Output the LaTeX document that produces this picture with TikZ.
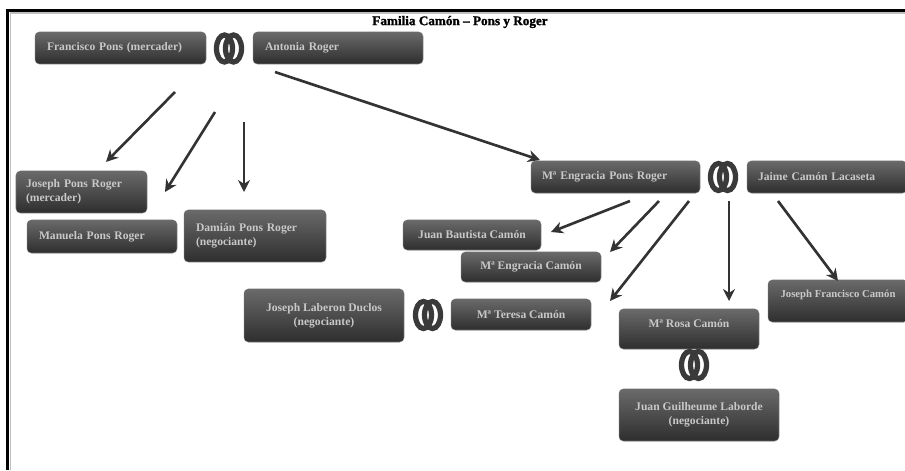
\documentclass[tikz,border=0pt]{standalone}
\usepackage{fontspec}
\setmainfont{Liberation Serif}
\newfontfamily\titlefont[FakeBold=1.6]{Liberation Serif}
\usepackage{tikz}
\usetikzlibrary{arrows.meta,shapes.geometric}

\definecolor{boxtop}{HTML}{6A6A6A}
\definecolor{boxbottom}{HTML}{2E2E2E}
\definecolor{boxtext}{HTML}{C8C8C8}
\definecolor{ringgray}{HTML}{3A3A3A}
\definecolor{arrowgray}{HTML}{333333}

\tikzset{
    person/.style={rectangle, rounded corners=2.5pt, top color=boxtop, bottom color=boxbottom, draw=boxbottom!70, line width=0.3pt, text=boxtext, font=\bfseries\fontsize{6.6}{8}\selectfont, inner sep=0pt, align=center},
    personleft/.style={person, align=left, inner xsep=0.24cm, text width=#1},
    ring/.style={draw=ringgray, line width=3pt, ellipse, minimum width=0.32cm, minimum height=0.54cm, inner sep=0pt},
    link/.style={-{Stealth[length=2.4mm,width=2.4mm]}, draw=arrowgray, line width=1.5pt},
}

\begin{document}
\begin{tikzpicture}[x=0.02cm,y=-0.02cm]
            \useasboundingbox (0,0) rectangle (905,470);
            \fill[white] (0,0) rectangle (905,470);
            \draw[line width=0.6pt, gray!50] (10.5,470) -- (10.5,13) -- (905,13);
            \draw[line width=2pt] (7.5,470) -- (7.5,10.5) -- (905,10.5);
            \node[font=\titlefont\bfseries\fontsize{7.5}{9}\selectfont] (title) at (460,22) {Familia Camón – Pons y Roger};

            \node[personleft=2.94cm, minimum height=0.64cm] (francisco) at (120.5,48) {Francisco Pons (mercader)};
            \node[personleft=2.92cm, minimum height=0.64cm] (antonia) at (338,48) {Antonia Roger};
            \node[personleft=2.22cm, minimum height=0.84cm, inner xsep=0.2cm] (josephpons) at (81.5,192) {Joseph Pons Roger\\(mercader)};
            \node[personleft=2.52cm, minimum height=0.66cm] (manuela) at (102,236.5) {Manuela Pons Roger};
            \node[personleft=2.36cm, minimum height=1.04cm] (damian) at (255,236) {Damián Pons Roger\\(negociante)};

            \node[personleft=2.94cm, minimum height=0.64cm, inner xsep=0.22cm] (engraciapons) at (615.5,177) {Mª Engracia Pons Roger};
            \node[personleft=2.76cm, minimum height=0.64cm, inner xsep=0.22cm] (jaime) at (827,177) {Jaime Camón Lacaseta};
            \node[person, minimum width=2.76cm, minimum height=0.6cm] (bautista) at (472,235) {Juan Bautista Camón};
            \node[person, minimum width=2.8cm, minimum height=0.6cm] (engracia) at (531,267) {Mª Engracia Camón};
            \node[person, minimum width=2.8cm, minimum height=0.62cm] (teresa) at (521,314.5) {Mª Teresa Camón};
            \node[person, minimum width=3.2cm, minimum height=1.06cm] (laberon) at (324,315.5) {Joseph Laberon Duclos\\(negociante)};
            \node[person, minimum width=2.8cm, text height=0.36cm, text depth=0.44cm] (rosa) at (689,329) {Mª Rosa Camón};
            \node[person, minimum width=2.8cm, text height=0.34cm, text depth=0.5cm, font=\bfseries\fontsize{6.1}{8}\selectfont] (franciscocamon) at (838,301) {Joseph Francisco Camón};
            \node[person, minimum width=3.2cm, minimum height=1.04cm] (guilheume) at (699,415) {Juan Guilheume Laborde\\(negociante)};

            % anillos
            \node[ring] (r1a) at (224.5,48.5) {};
            \node[ring] (r1b) at (233.5,48.5) {};
            \node[ring] (r2a) at (718.5,177) {};
            \node[ring] (r2b) at (727.5,177) {};
            \node[ring] (r3a) at (689.5,365) {};
            \node[ring] (r3b) at (698.5,365) {};
            \node[ring] (r4a) at (423.5,315) {};
            \node[ring] (r4b) at (432.5,315) {};

            % flechas
            \coordinate (f1) at (175,92);
            \coordinate (t1) at (106,162);
            \coordinate (f2) at (215,112);
            \coordinate (t2) at (165,192);
            \coordinate (f3) at (244,122);
            \coordinate (t3) at (244,192);
            \coordinate (f4) at (275,72);
            \coordinate (t4) at (540,160);
            \coordinate (f5) at (630,201);
            \coordinate (t5) at (551,232);
            \coordinate (f6) at (659,201);
            \coordinate (t6) at (610,252);
            \coordinate (f7) at (689,201);
            \coordinate (t7) at (610,301);
            \coordinate (f8) at (729,201);
            \coordinate (t8) at (729,301);
            \coordinate (f9) at (778,201);
            \coordinate (t9) at (838,281);

            \draw[link] (f1) -- (t1);
            \draw[link] (f2) -- (t2);
            \draw[link] (f3) -- (t3);
            \draw[link] (f4) -- (t4);
            \draw[link] (f5) -- (t5);
            \draw[link] (f6) -- (t6);
            \draw[link] (f7) -- (t7);
            \draw[link] (f8) -- (t8);
            \draw[link] (f9) -- (t9);
        \end{tikzpicture}
\end{document}
